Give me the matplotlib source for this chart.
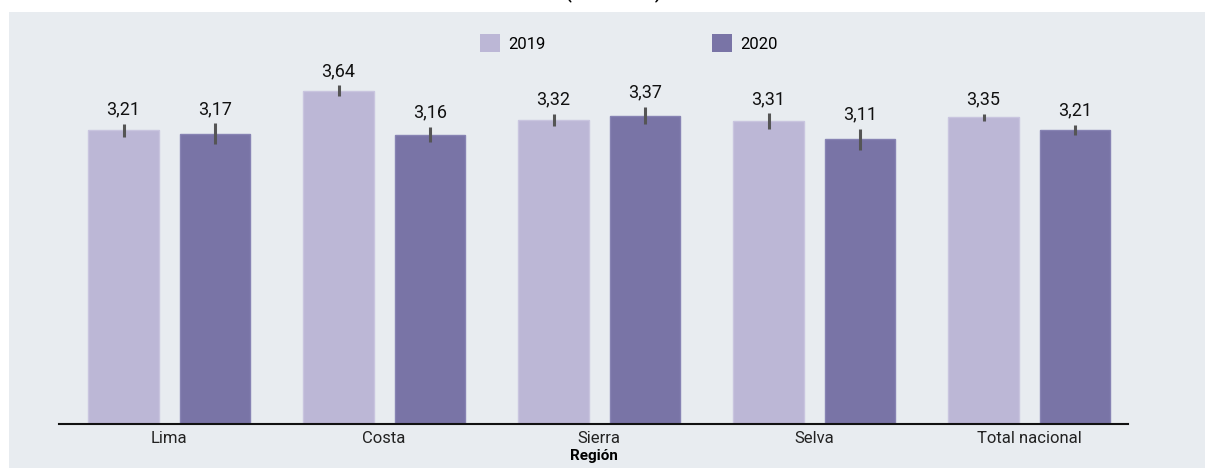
import numpy as np
import matplotlib.pyplot as plt
from matplotlib.patches import Rectangle, Patch

regiones = ['Lima', 'Costa', 'Sierra', 'Selva', 'Total nacional']
v2019 = [3.21, 3.64, 3.32, 3.31, 3.35]
v2020 = [3.17, 3.16, 3.37, 3.11, 3.21]
err2019 = [0.07, 0.06, 0.067, 0.084, 0.038]
err2020 = [0.115, 0.082, 0.095, 0.11, 0.055]
etiquetas2019 = ['3,21', '3,64', '3,32', '3,31', '3,35']
etiquetas2020 = ['3,17', '3,16', '3,37', '3,11', '3,21']

c2019 = '#bcb7d6'
c2020 = '#7974a6'
fondo = '#e8ecf0'

fig = plt.figure(figsize=(12.05, 4.68), dpi=100)
fig.patch.set_facecolor('white')
fig.patches.append(Rectangle((9 / 1205, 0), 1 - 9 / 1205, 1 - 12 / 468,
                             transform=fig.transFigure, facecolor=fondo,
                             edgecolor='none', zorder=-5))

# el título queda cortado arriba, como en la imagen original
fig.text(0.509, 1 + 2 / 468, '(2019-2020)', ha='center', va='baseline',
         fontsize=12, fontweight='bold', family=['Roboto', 'DejaVu Sans'])

ax = fig.add_axes([59 / 1205, 44 / 468, (1128 - 59) / 1205, (424 - 58) / 468])
ax.set_facecolor(fondo)

x = np.arange(len(regiones))
w = 0.326
d = 0.212
ax.bar(x - d, v2019, w, color=c2019, edgecolor='#c9c5df', linewidth=1, zorder=2)
ax.bar(x + d, v2020, w, color=c2020, edgecolor='#8783b3', linewidth=1, zorder=2)
ax.errorbar(x - d, v2019, yerr=err2019, fmt='none', ecolor='#555555',
            elinewidth=2.2, capsize=0, zorder=3)
ax.errorbar(x + d, v2020, yerr=err2020, fmt='none', ecolor='#555555',
            elinewidth=2.2, capsize=0, zorder=3)

for i in range(len(regiones)):
    ax.annotate(etiquetas2019[i], (x[i] - d, v2019[i] + err2019[i]),
                xytext=(0, 4), textcoords='offset points', ha='center',
                va='bottom', fontsize=13, color='#111111',
                family=['Roboto', 'DejaVu Sans'])
    ax.annotate(etiquetas2020[i], (x[i] + d, v2020[i] + err2020[i]),
                xytext=(0, 4), textcoords='offset points', ha='center',
                va='bottom', fontsize=13, color='#111111',
                family=['Roboto', 'DejaVu Sans'])

ax.set_xlim(-0.512, 4.46)
ax.set_ylim(0, 4)
ax.set_xticks(x)
ax.set_xticklabels(regiones, fontsize=12, color='#222222',
                   family=['Roboto', 'DejaVu Sans'])
ax.tick_params(axis='x', length=0, pad=5)
ax.set_yticks([])
for s in ['left', 'right', 'top']:
    ax.spines[s].set_visible(False)
ax.spines['bottom'].set_linewidth(1.5)
ax.spines['bottom'].set_color('#111111')
ax.set_xlabel('Región', fontsize=11, fontweight='bold', labelpad=2,
              family=['Roboto', 'DejaVu Sans'])

handles = [Patch(facecolor=c2019, edgecolor='none'),
           Patch(facecolor=c2020, edgecolor='none')]
fig.legend(handles, ['2019', '2020'], loc='center',
           bbox_to_anchor=(629 / 1205, 1 - 43 / 468), ncol=2, frameon=False,
           handlelength=1.2, handleheight=1.2, handletextpad=0.5,
           columnspacing=10.0, prop={'family': ['Roboto', 'DejaVu Sans'], 'size': 12})

fig.savefig('out.png', dpi=100, facecolor=fig.get_facecolor())
